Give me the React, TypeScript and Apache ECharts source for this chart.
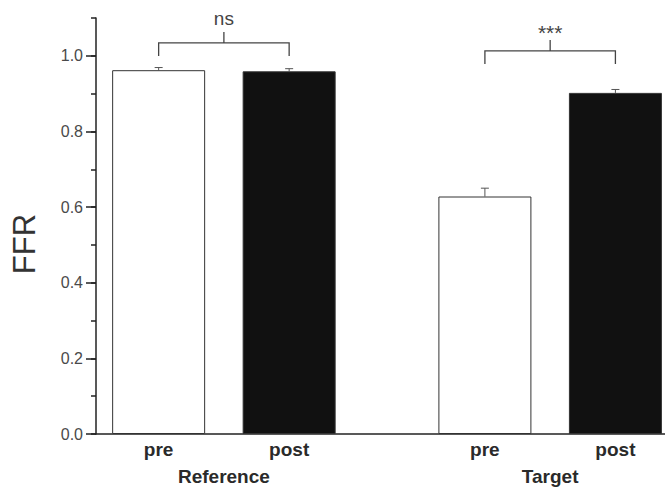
import React, { useEffect, useRef } from "react";
import * as echarts from "echarts";

// Groups and conditions along the x axis
const groups = ["Reference", "Target"];
const groupPositions = [1.5, 4.0];
const conditions = ["pre", "post", "pre", "post"];
const barPositions = [1, 2, 3.5, 4.5];

// Mean FFR and its error (upper whisker) for each bar
const ffrMean = [0.962, 0.959, 0.628, 0.902];
const ffrError = [0.007, 0.007, 0.022, 0.009];
const barFill = ["#ffffff", "#111111", "#ffffff", "#111111"];

// Y axis ticks
const yMajorTicks = [0, 0.2, 0.4, 0.6, 0.8, 1.0];

// Significance brackets: bar indices, bracket level (FFR) and label
const comparisonFrom = [0, 2];
const comparisonTo = [1, 3];
const comparisonLevel = [1.034, 1.013];
const comparisonLabel = ["ns", "***"];

const FONT = "'Liberation Sans', Arial, Helvetica, sans-serif";

export default function App() {
  const ref = useRef<HTMLDivElement>(null);

  useEffect(() => {
    if (!ref.current) return;
    const chart = echarts.init(ref.current, null, { renderer: "svg" });

    const barData = barPositions.map((p, i) => ({
      value: [p, ffrMean[i]],
      itemStyle: { color: barFill[i], borderColor: "#333", borderWidth: 1 },
    }));

    const errorData = barPositions.map((p, i) => [p, ffrMean[i], ffrMean[i] + ffrError[i]]);

    const bracketData = comparisonFrom.map((a, i) => [
      barPositions[a],
      barPositions[comparisonTo[i]],
      comparisonLevel[i],
      i,
    ]);

    const option: any = {
      animation: false,
      backgroundColor: "#ffffff",
      grid: { left: 96, right: 0, top: 18, bottom: 55, outerBoundsMode: "none" },
      xAxis: [
        {
          type: "value",
          min: 0.52,
          max: 4.88,
          position: "bottom",
          axisLine: { show: true, lineStyle: { color: "#222", width: 1.5 } },
          axisTick: { show: false },
          splitLine: { show: false },
          axisLabel: {
            customValues: barPositions,
            formatter: (v: number) => conditions[barPositions.indexOf(v)] ?? "",
            fontFamily: FONT,
            fontWeight: "bold",
            fontSize: 19,
            color: "#2a2a2a",
            margin: 6,
          },
        },
        {
          type: "value",
          min: 0.52,
          max: 4.88,
          position: "bottom",
          axisLine: { show: false },
          axisTick: { show: false },
          splitLine: { show: false },
          axisLabel: {
            customValues: groupPositions,
            formatter: (v: number) => groups[groupPositions.indexOf(v)] ?? "",
            fontFamily: FONT,
            fontWeight: "bold",
            fontSize: 19,
            color: "#2a2a2a",
            margin: 33,
          },
        },
      ],
      yAxis: [
        {
          type: "value",
          min: 0,
          max: 1.1,
          interval: 0.1,
          position: "left",
          axisLine: { show: true, lineStyle: { color: "#222", width: 1.5 } },
          axisTick: { show: true, length: 5, lineStyle: { color: "#222", width: 1.5 } },
          axisLabel: { show: false },
          splitLine: { show: false },
        },
        {
          type: "value",
          min: 0,
          max: 1.1,
          position: "left",
          axisLine: { show: false },
          axisTick: {
            show: true,
            customValues: yMajorTicks,
            length: 10,
            lineStyle: { color: "#222", width: 1.5 },
          },
          axisLabel: {
            customValues: yMajorTicks,
            formatter: (v: number) => v.toFixed(1),
            fontFamily: FONT,
            fontSize: 16,
            color: "#4a4a4a",
            margin: 13,
          },
          splitLine: { show: false },
          name: "FFR",
          nameLocation: "middle",
          nameGap: 56,
          nameTextStyle: {
            fontFamily: FONT,
            fontSize: 31,
            color: "#333",
            padding: [0, 36, 0, 0],
          },
        },
      ],
      series: [
        {
          type: "bar",
          xAxisIndex: 0,
          yAxisIndex: 0,
          barWidth: 93,
          data: barData,
        },
        {
          type: "custom",
          xAxisIndex: 0,
          yAxisIndex: 0,
          data: errorData,
          renderItem: (params: any, api: any) => {
            const base = api.coord([api.value(0), api.value(1)]);
            const top = api.coord([api.value(0), api.value(2)]);
            const cap = 4;
            const style = { stroke: "#555", lineWidth: 1 };
            return {
              type: "group",
              children: [
                { type: "line", shape: { x1: base[0], y1: base[1], x2: top[0], y2: top[1] }, style },
                { type: "line", shape: { x1: top[0] - cap, y1: top[1], x2: top[0] + cap, y2: top[1] }, style },
              ],
            };
          },
        },
        {
          type: "custom",
          xAxisIndex: 0,
          yAxisIndex: 0,
          data: bracketData,
          renderItem: (params: any, api: any) => {
            const left = api.coord([api.value(0), api.value(2)]);
            const right = api.coord([api.value(1), api.value(2)]);
            const idx = api.value(3);
            const drop = 13;
            const stem = 11;
            const midX = (left[0] + right[0]) / 2;
            const y = left[1];
            const style = { stroke: "#444", lineWidth: 1.3, fill: "none" };
            return {
              type: "group",
              children: [
                {
                  type: "polyline",
                  shape: {
                    points: [
                      [left[0], y + drop],
                      [left[0], y],
                      [right[0], y],
                      [right[0], y + drop],
                    ],
                  },
                  style,
                },
                { type: "line", shape: { x1: midX, y1: y, x2: midX, y2: y - stem }, style },
                {
                  type: "text",
                  x: midX,
                  y: y - stem - (idx === 0 ? 13 : 7),
                  style: {
                    text: comparisonLabel[idx],
                    fill: "#444",
                    font: `${idx === 0 ? 19 : 21}px ${FONT}`,
                    align: "center",
                    verticalAlign: "middle",
                  },
                },
              ],
            };
          },
        },
      ],
    };

    chart.setOption(option);
    return () => chart.dispose();
  }, []);

  return (
    <div
      ref={ref}
      style={{ position: "fixed", left: 0, top: 0, width: 665, height: 489, background: "#fff" }}
    />
  );
}
